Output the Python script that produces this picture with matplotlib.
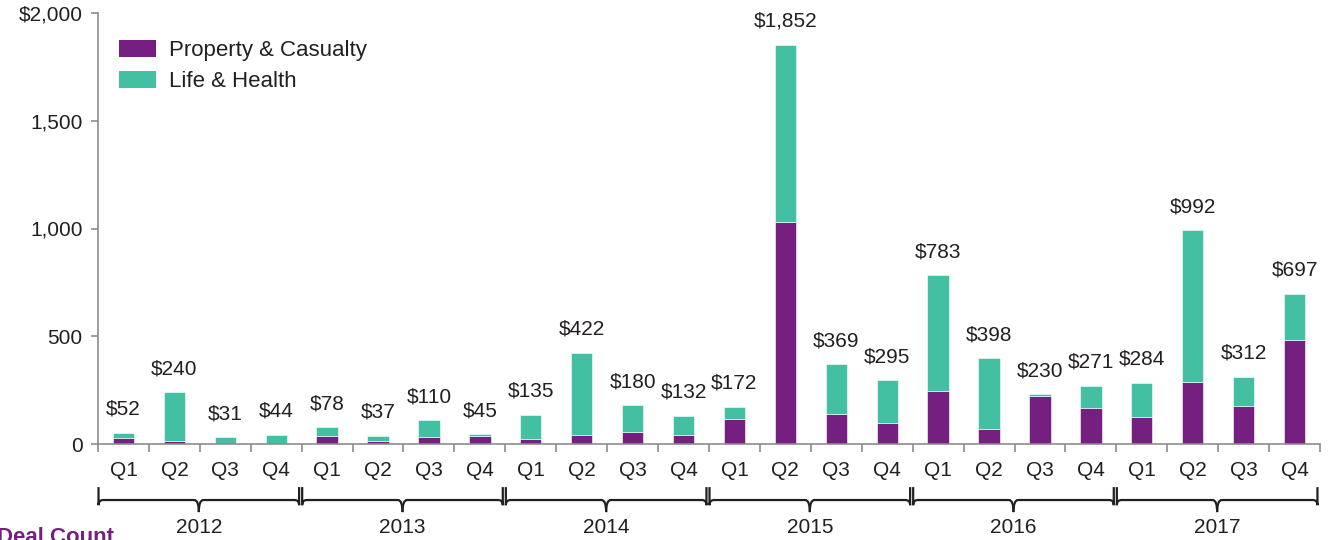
import matplotlib
matplotlib.use("Agg")
import matplotlib.pyplot as plt
from matplotlib.path import Path
from matplotlib.patches import PathPatch, Patch
import matplotlib.transforms as mtransforms
import numpy as np

# Quarterly deal value ($M) by line of business
years = ["2012", "2013", "2014", "2015", "2016", "2017"]
quarters = ["Q1", "Q2", "Q3", "Q4"]
totals = [52, 240, 31, 44, 78, 37, 110, 45, 135, 422, 180, 132,
          172, 1852, 369, 295, 783, 398, 230, 271, 284, 992, 312, 697]
property_casualty = [30, 13, 2, 1, 35, 14, 34, 38, 23, 40, 57, 43,
                     115, 1030, 138, 99, 247, 71, 223, 169, 127, 290, 176, 483]
life_health = [22, 227, 29, 43, 43, 23, 76, 7, 112, 382, 123, 89,
               57, 822, 231, 196, 536, 327, 7, 102, 157, 702, 136, 214]
y_ticks = [0, 500, 1000, 1500, 2000]
y_tick_labels = ["0", "500", "1,000", "1,500", "$2,000"]

PURPLE = "#752080"
GREEN = "#43C0A1"
TEXT = "#231F20"
AXIS = "#8C8C8C"
FS = 15

plt.rcParams["font.family"] = ["Liberation Sans", "DejaVu Sans"]

fig = plt.figure(figsize=(13.33, 5.40), dpi=100)
ax = fig.add_axes([98 / 1333, 1 - 444 / 540, 1222 / 1333, 431 / 540])

n = len(totals)
x = np.arange(n)
width = 0.42
ax.bar(x, property_casualty, width, color=PURPLE, edgecolor="white", linewidth=0.4)
ax.bar(x, life_health, width, bottom=property_casualty, color=GREEN,
       edgecolor="white", linewidth=0.4)

for xi, t in zip(x, totals):
    ax.annotate(f"${t:,}", (xi, t), xytext=(0, 17), textcoords="offset points",
                ha="center", va="center", fontsize=FS, color=TEXT)

ax.set_xlim(-0.5, n - 0.5)
ax.set_ylim(0, 2000)
ax.set_yticks(y_ticks)
ax.set_yticklabels(y_tick_labels)
ax.set_xticks(x)
ax.set_xticklabels(quarters * len(years))
ax.set_xticks(np.arange(n + 1) - 0.5, minor=True)

for side in ("top", "right"):
    ax.spines[side].set_visible(False)
for side in ("left", "bottom"):
    ax.spines[side].set_color(AXIS)
    ax.spines[side].set_linewidth(1.2)

ax.tick_params(axis="y", direction="out", length=5, width=1.2, color=AXIS,
               labelsize=FS, labelcolor=TEXT, pad=6)
ax.tick_params(axis="x", which="major", length=0, labelsize=FS,
               labelcolor=TEXT, pad=12)
ax.tick_params(axis="x", which="minor", direction="out", length=6,
               width=1.2, color=AXIS)

# Year braces beneath the quarter labels
trans = mtransforms.blended_transform_factory(ax.transData, ax.transAxes)
y_top, y_mid, y_tip = -0.100, -0.130, -0.158
rx, ry = 0.09, 0.012
for i, yr in enumerate(years):
    x0 = 4 * i - 0.5 + 0.01
    x1 = 4 * i + 3.5 - 0.05
    xc = (x0 + x1) / 2
    left = Path([(x0, y_top), (x0, y_mid - ry), (x0, y_mid), (x0 + rx, y_mid),
                 (xc - rx, y_mid), (xc, y_mid), (xc, y_tip)],
                [Path.MOVETO, Path.LINETO, Path.CURVE3, Path.CURVE3,
                 Path.LINETO, Path.CURVE3, Path.CURVE3])
    right = Path([(x1, y_top), (x1, y_mid - ry), (x1, y_mid), (x1 - rx, y_mid),
                  (xc + rx, y_mid), (xc, y_mid), (xc, y_tip)],
                 [Path.MOVETO, Path.LINETO, Path.CURVE3, Path.CURVE3,
                  Path.LINETO, Path.CURVE3, Path.CURVE3])
    for p in (left, right):
        ax.add_patch(PathPatch(p, transform=trans, facecolor="none",
                               edgecolor=TEXT, linewidth=1.6, clip_on=False))
    ax.text(xc, -0.194, yr, transform=trans, ha="center", va="center",
            fontsize=FS, color=TEXT)

handles = [Patch(facecolor=PURPLE, label="Property & Casualty"),
           Patch(facecolor=GREEN, label="Life & Health")]
ax.legend(handles=handles, loc="upper left", bbox_to_anchor=(0.017, 0.937),
          frameon=False, fontsize=16, handlelength=1.68, handleheight=0.78,
          handletextpad=0.6, labelspacing=0.45, borderpad=0, borderaxespad=0,
          labelcolor=TEXT)

fig.text(-0.002, 1 - 527 / 540, "Deal Count", ha="left", va="top",
         fontsize=16, fontweight="bold", color=PURPLE)

fig.savefig("out.png", dpi=100)
